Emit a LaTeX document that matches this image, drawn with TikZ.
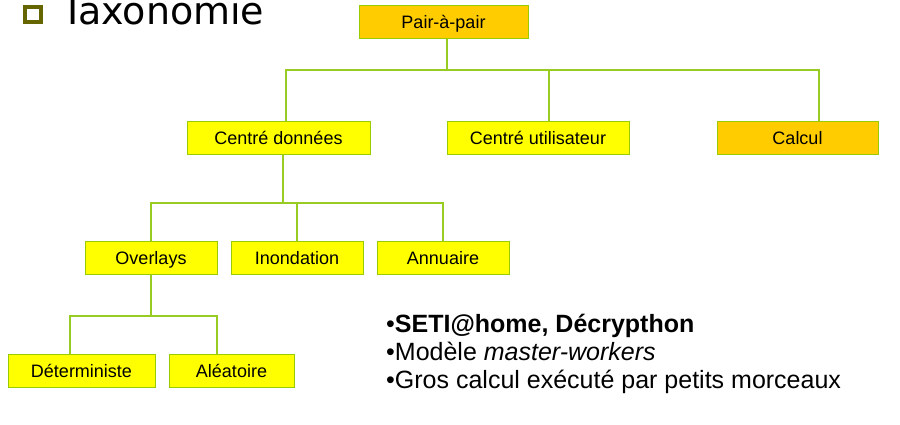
\documentclass[tikz,border=0pt]{standalone}
\usepackage{fontspec}
\setmainfont{Liberation Sans}
\newfontfamily\titlefont{DejaVu Sans}
\usepackage{xcolor}
\definecolor{boxfill}{HTML}{FFFF00}
\definecolor{rootfill}{HTML}{FFCC00}
\definecolor{boxline}{HTML}{99CC00}
\definecolor{linkline}{HTML}{99CC22}
\definecolor{bulletolive}{HTML}{666600}

\begin{document}
\begin{tikzpicture}[
    x=1pt, y=-1pt,
    box/.style={rectangle, draw=boxline, fill=boxfill, line width=1pt, minimum height=33pt, inner sep=0pt, text height=13pt, text depth=0pt, font=\fontsize{18}{21}\selectfont},
    rootbox/.style={box, fill=rootfill},
    link/.style={draw=linkline, line width=1.2pt},
    item/.style={anchor=base west, inner sep=0pt, font=\fontsize{25}{29}\selectfont}
]
    \clip (0,0) rectangle (900,425);

    % title
    \node[draw=bulletolive, line width=4pt, minimum width=16pt, minimum height=15pt, inner sep=0pt] (sq) at (33,15) {};
    \node[anchor=base west, inner sep=0pt, font=\titlefont\fontsize{38}{44}\selectfont] (title) at (61,25) {Taxonomie};

    \node[rootbox, minimum width=169pt] (pair) at (443.5,22.5) {Pair-à-pair};

    \node[box, minimum width=183pt] (cd)    at (278.5,138.5) {Centré données};
    \node[box, minimum width=182pt] (cu)    at (538,138.5)   {Centré utilisateur};
    \node[rootbox, minimum width=161pt] (calc) at (797.5,138.5) {Calcul};

    \node[box, minimum width=132pt] (ovl)   at (151,257.5) {Overlays};
    \node[box, minimum width=132pt] (inon)  at (297,257.5) {Inondation};
    \node[box, minimum width=132pt] (annu)  at (443,257.5) {Annuaire};

    \node[box, minimum width=147pt] (det)   at (81.5,370.5)  {Déterministe};
    \node[box, minimum width=125pt] (alea)  at (231.5,370.5) {Aléatoire};

    \coordinate (bus1) at (447,70);
    \coordinate (bus2) at (283,203);
    \coordinate (bus3) at (151,316);

    \draw[link] (pair.south -| bus1) -- (bus1);
    \draw[link] ([xshift=7.5pt]cd.north) |- (bus1) -| ([xshift=21.5pt]calc.north);
    \draw[link] ([xshift=11pt]cu.north) -- ([xshift=11pt]cu.north |- bus1);

    \draw[link] (cd.south -| bus2) -- (bus2);
    \draw[link] (ovl.north) |- (bus2) -| (annu.north);
    \draw[link] (inon.north) -- (inon.north |- bus2);

    \draw[link] (ovl.south) -- (bus3);
    \draw[link] ([xshift=-11.5pt]det.north) |- (bus3) -| ([xshift=-14.5pt]alea.north);

    \node[item] (seti) at (386,332) {•\textbf{SETI@home, Décrypthon}};
    \node[item] (model) at (386,360) {•Modèle \textit{master-workers}};
    \node[item] (gros) at (386,388) {•Gros calcul exécuté par petits morceaux};
\end{tikzpicture}
\end{document}
